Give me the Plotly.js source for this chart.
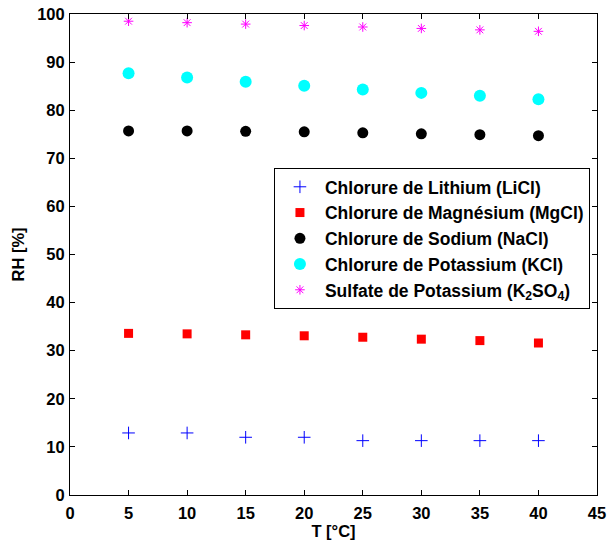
<!DOCTYPE html>
<html><head><meta charset="utf-8">
<script src="https://cdn.plot.ly/plotly-3.0.1.min.js"></script>
<style>html,body{margin:0;padding:0;background:#fff}#plot{width:609px;height:541px}</style>
</head><body><div id="plot"></div>
<script>
const T = [5, 10, 15, 20, 25, 30, 35, 40];
const LiCl = [12.9, 12.9, 12.0, 12.0, 11.3, 11.3, 11.3, 11.3];
const MgCl = [33.6, 33.5, 33.3, 33.1, 32.8, 32.4, 32.1, 31.6];
const NaCl = [75.7, 75.7, 75.6, 75.5, 75.3, 75.1, 74.9, 74.7];
const KCl = [87.7, 86.8, 85.9, 85.1, 84.3, 83.6, 83.0, 82.3];
const K2SO4 = [98.5, 98.2, 97.9, 97.6, 97.3, 97.0, 96.7, 96.4];
const names = ['Chlorure de Lithium (LiCl)', 'Chlorure de Magnésium (MgCl)', 'Chlorure de Sodium (NaCl)', 'Chlorure de Potassium (KCl)', 'Sulfate de Potassium (K<sub>2</sub>SO<sub>4</sub>)'];
const xTicks = [0, 5, 10, 15, 20, 25, 30, 35, 40, 45];
const yTicks = [0, 10, 20, 30, 40, 50, 60, 70, 80, 90, 100];

const traces = [
  {x: T, y: LiCl, name: names[0], mode: 'markers', type: 'scatter', marker: {symbol: 'cross-thin-open', size: 9, color: '#0000ff', line: {color: '#0000ff', width: 1}}},
  {x: T, y: MgCl, name: names[1], mode: 'markers', type: 'scatter', marker: {symbol: 'square', size: 9, color: '#ff0000'}},
  {x: T, y: NaCl, name: names[2], mode: 'markers', type: 'scatter', marker: {symbol: 'circle', size: 11, color: '#000000'}},
  {x: T, y: KCl, name: names[3], mode: 'markers', type: 'scatter', marker: {symbol: 'circle', size: 12, color: '#00ffff'}},
  {x: T, y: K2SO4, name: names[4], mode: 'markers', type: 'scatter', marker: {symbol: 'asterisk-open', size: 8, color: '#ff00ff', line: {color: '#ff00ff', width: 1}}}
];

const FF = 'Liberation Sans, Arial, sans-serif';
const axisCommon = {
  showgrid: false, zeroline: false, showline: true, linecolor: '#000', linewidth: 1,
  mirror: 'ticks', ticks: 'inside', ticklen: 5, tickcolor: '#000',
  tickfont: {family: FF, size: 16.5, color: '#000', weight: 'bold'}
};

const layout = {
  width: 609, height: 541,
  margin: {l: 70, r: 12, t: 14, b: 46},
  paper_bgcolor: '#fff', plot_bgcolor: '#fff',
  font: {family: FF, color: '#000', weight: 'bold'},
  xaxis: Object.assign({}, axisCommon, {range: [0, 45], tickvals: xTicks, ticktext: xTicks.map(String), ticklabelstandoff: 3,
    title: {text: '<b>T [°C]</b>', font: {size: 16.5, family: FF}, standoff: 4}}),
  yaxis: Object.assign({}, axisCommon, {range: [0, 100], tickvals: yTicks, ticktext: yTicks.map(String), ticklabelstandoff: 1,
    title: {text: '<b>RH [%]</b>', font: {size: 16.5, family: FF}, standoff: 8}}),
  legend: {x: 0.387, y: 0.68, xanchor: 'left', yanchor: 'top', bgcolor: '#fff', bordercolor: '#000', borderwidth: 1,
    font: {size: 17.5, family: FF, weight: 'bold'}, tracegroupgap: 0, itemwidth: 40},
  showlegend: true
};

Plotly.newPlot('plot', traces, layout, {displayModeBar: false, staticPlot: true});
</script>
</body></html>
